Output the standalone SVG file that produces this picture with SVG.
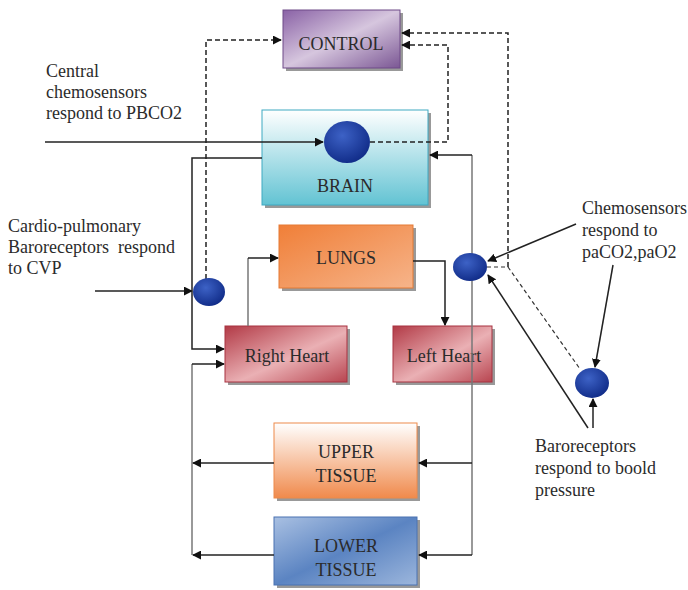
<svg xmlns="http://www.w3.org/2000/svg" width="688" height="590" viewBox="0 0 688 590">
<style>
.lbl{font-family:"Liberation Serif","Times New Roman",serif;font-size:18px;fill:#2b2b2b}
.box{font-family:"Liberation Serif","Times New Roman",serif;font-size:18px;fill:#2b2b2b;text-anchor:middle}
.ln{fill:none;stroke:#222;stroke-width:1.5}
.gl{fill:none;stroke:#777;stroke-width:1.5}
.dl{fill:none;stroke:#222;stroke-width:1.5;stroke-dasharray:5 3}
.dt{fill:none;stroke:#333;stroke-width:1.2;stroke-dasharray:4 3}
.sh{fill:#555;opacity:0.6}
</style>
<defs>
<marker id="ar" viewBox="0 0 10 10" refX="9" refY="5" markerWidth="9" markerHeight="9" markerUnits="userSpaceOnUse" orient="auto"><path d="M0,0 L10,5 L0,10 z" fill="#111"/></marker>
<linearGradient id="gCtl" x1="0" y1="0" x2="1" y2="1"><stop offset="0" stop-color="#8a62a6"/><stop offset="0.5" stop-color="#d6c6de"/><stop offset="1" stop-color="#7b5794"/></linearGradient>
<linearGradient id="gBrain" x1="0" y1="0" x2="0" y2="1"><stop offset="0" stop-color="#ffffff"/><stop offset="1" stop-color="#62c3d3"/></linearGradient>
<linearGradient id="gLung" x1="0" y1="0" x2="1" y2="1"><stop offset="0" stop-color="#f07f38"/><stop offset="1" stop-color="#f6b48a"/></linearGradient>
<linearGradient id="gHeart" x1="0" y1="0" x2="1" y2="1"><stop offset="0" stop-color="#b23a46"/><stop offset="0.55" stop-color="#eab0b4"/><stop offset="1" stop-color="#b84550"/></linearGradient>
<linearGradient id="gUp" x1="0" y1="0" x2="0" y2="1"><stop offset="0" stop-color="#ffffff"/><stop offset="1" stop-color="#f08a4c"/></linearGradient>
<linearGradient id="gLow" x1="0" y1="0" x2="1" y2="1"><stop offset="0" stop-color="#a9c0e2"/><stop offset="0.5" stop-color="#5b84c2"/><stop offset="1" stop-color="#9cb6dc"/></linearGradient>
<radialGradient id="gOv" cx="0.4" cy="0.35" r="0.7"><stop offset="0" stop-color="#3d62c6"/><stop offset="1" stop-color="#0f2a86"/></radialGradient>
</defs>

<g id="control">
  <rect class="sh" x="286" y="13" width="117" height="58"/>
  <rect x="283" y="10" width="117" height="58" fill="url(#gCtl)" stroke="#6e4a88" stroke-width="1"/>
  <text class="box" x="341" y="50">CONTROL</text>
</g>
<g id="brain">
  <rect class="sh" x="265" y="113" width="166" height="95"/>
  <rect x="262" y="110" width="166" height="95" fill="url(#gBrain)" stroke="#3fa9c2" stroke-width="1"/>
  <text class="box" x="345" y="192">BRAIN</text>
</g>
<g id="lungs">
  <rect class="sh" x="282" y="228" width="134" height="63"/>
  <rect x="279" y="225" width="134" height="63" fill="url(#gLung)" stroke="#e57a35" stroke-width="1"/>
  <text class="box" x="346" y="264">LUNGS</text>
</g>
<g id="right-heart">
  <rect class="sh" x="228" y="329" width="122" height="56"/>
  <rect x="225" y="326" width="122" height="56" fill="url(#gHeart)" stroke="#a83340" stroke-width="1"/>
  <text class="box" x="287" y="362">Right Heart</text>
</g>
<g id="left-heart">
  <rect class="sh" x="396" y="329" width="99" height="56"/>
  <rect x="393" y="326" width="99" height="56" fill="url(#gHeart)" stroke="#a83340" stroke-width="1"/>
  <text class="box" x="444" y="362">Left Heart</text>
</g>
<g id="upper-tissue">
  <rect class="sh" x="277" y="426" width="143" height="75"/>
  <rect x="274" y="423" width="143" height="75" fill="url(#gUp)" stroke="#ee8a4a" stroke-width="1"/>
  <text class="box" x="346" y="458">UPPER</text>
  <text class="box" x="346" y="482">TISSUE</text>
</g>
<g id="lower-tissue">
  <rect class="sh" x="277" y="520" width="143" height="68"/>
  <rect x="274" y="517" width="143" height="68" fill="url(#gLow)" stroke="#4a72b2" stroke-width="1"/>
  <text class="box" x="346" y="552">LOWER</text>
  <text class="box" x="346" y="576">TISSUE</text>
</g>

<g id="connectors">
  <path class="ln" d="M45,142 L323,142" marker-end="url(#ar)"/>
  <path class="dl" d="M370,142 L448,142 L448,45 L402,45" marker-end="url(#ar)"/>
  <path class="dl" d="M508,267 L508,33 L402,33" marker-end="url(#ar)"/>
  <path class="dt" d="M487,267 L508,267 L580,369"/>
  <path class="dl" d="M206,279 L206,40 L281,40" marker-end="url(#ar)"/>
  <path class="ln" d="M95,291 L192,291" marker-end="url(#ar)"/>
  <path class="ln" d="M262,158 L192,158 L192,349 L224,349" marker-end="url(#ar)"/>
  <path class="gl" d="M192,555 L192,364"/>
  <path class="ln" d="M192,364 L224,364" marker-end="url(#ar)"/>
  <path class="gl" d="M248,326 L248,258"/>
  <path class="ln" d="M248,258 L278,258" marker-end="url(#ar)"/>
  <path class="ln" d="M413,261 L445,261 L445,325" marker-end="url(#ar)"/>
  <path class="gl" d="M472,555 L472,155"/>
  <path class="ln" d="M472,155 L430,155" marker-end="url(#ar)"/>
  <path class="ln" d="M472,463 L419,463" marker-end="url(#ar)"/>
  <path class="ln" d="M472,555 L419,555" marker-end="url(#ar)"/>
  <path class="ln" d="M274,463 L193,463" marker-end="url(#ar)"/>
  <path class="ln" d="M274,555 L193,555" marker-end="url(#ar)"/>
  <path class="ln" d="M576,224 L488,261" marker-end="url(#ar)"/>
  <path class="ln" d="M613,265 L595,367" marker-end="url(#ar)"/>
  <path class="ln" d="M593,428 L593,399" marker-end="url(#ar)"/>
  <path class="ln" d="M588,428 L488,275" marker-end="url(#ar)"/>
</g>

<g id="brain-sensor">
  <ellipse cx="347" cy="142" rx="23" ry="21" fill="url(#gOv)"/>
</g>
<g id="cvp-sensor">
  <ellipse cx="209" cy="292" rx="16" ry="14" fill="url(#gOv)"/>
</g>
<g id="arterial-chemo-sensor">
  <ellipse cx="470" cy="267" rx="17" ry="14" fill="url(#gOv)"/>
</g>
<g id="baro-sensor">
  <ellipse cx="592" cy="383" rx="17" ry="15" fill="url(#gOv)"/>
</g>

<g id="labels">
  <text class="lbl" x="46" y="77">Central</text>
  <text class="lbl" x="46" y="98">chemosensors</text>
  <text class="lbl" x="46" y="119">respond to PBCO2</text>
  <text class="lbl" x="8" y="232">Cardio-pulmonary</text>
  <text class="lbl" x="8" y="253" xml:space="preserve">Baroreceptors  respond</text>
  <text class="lbl" x="8" y="274">to CVP</text>
  <text class="lbl" x="582" y="214">Chemosensors</text>
  <text class="lbl" x="582" y="236">respond to</text>
  <text class="lbl" x="582" y="258">paCO2,paO2</text>
  <text class="lbl" x="535" y="452">Baroreceptors</text>
  <text class="lbl" x="535" y="474">respond to boold</text>
  <text class="lbl" x="535" y="496">pressure</text>
</g>
</svg>
